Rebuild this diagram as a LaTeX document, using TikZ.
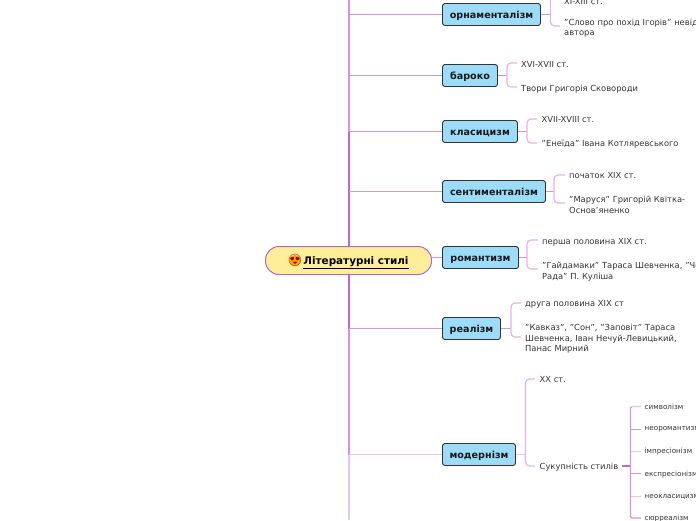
\documentclass[tikz,border=0pt]{standalone}
\usepackage{fontspec}
\setmainfont{DejaVu Sans}
\newfontfamily\emojifont{Noto Emoji}
\definecolor{branchdark}{HTML}{BA68D4}
\definecolor{branchmid}{HTML}{CF94E3}
\definecolor{branchlight}{HTML}{E6C3F0}
\definecolor{nodeblue}{HTML}{9CDCF9}
\definecolor{rootfill}{HTML}{FFEE99}
\definecolor{rootline}{HTML}{B266C8}
\tikzset{
 stylebox/.style={draw=black!80,line width=0.9pt,fill=nodeblue,rounded corners=2.5pt,minimum height=22pt,inner xsep=0pt,inner ysep=0pt,text height=8pt,text depth=0pt,font=\fontsize{9.6}{11}\selectfont\bfseries,text=black!90},
 rootbox/.style={draw=rootline,line width=1pt,fill=rootfill,rounded corners=13.5pt,minimum width=166pt,minimum height=28pt,inner sep=0pt},
 leaf/.style={anchor=north west,inner sep=0pt,align=left,yshift=-2pt,text=black!80,font=\fontsize{8.35}{10.6}\selectfont},
 tiny/.style={anchor=west,inner sep=0pt,text=black!80,font=\fontsize{7.2}{8}\selectfont},
 mainline/.style={draw=branchmid,line width=1pt},
 softline/.style={draw=branchlight,line width=1.3pt},
 greyline/.style={draw=branchlight!60!gray!80!branchmid,line width=1pt},
 brace/.style={draw=branchlight!70!branchmid,line width=1.2pt,rounded corners=4pt},
 stub/.style={draw=branchmid,line width=1.3pt},
}
\begin{document}
\begin{tikzpicture}[x=1pt,y=-1pt]
\useasboundingbox (0,0) rectangle (696,520);
\clip (0,0) rectangle (696,520);

% nodes
\node[rootbox] (root) at (348.5,260.5) {};
\node[anchor=center,inner sep=0pt,text height=7pt,text depth=3pt,font=\fontsize{10.4}{11}\selectfont\bfseries,text=black] (rootlabel) at (356,262.5) {\underline{Літературні стилі}};
\fill[orange!70!yellow] (295,260.5) circle (5.6pt);
\node[inner sep=0pt,text=red!60!black,font=\emojifont\fontsize{12}{12}\selectfont] (rootemoji) at (295,260.5) {😍};

\node[stylebox,minimum width=98pt] (orn) at (491.5,14.5) {орнаменталізм};
\node[stylebox,minimum width=55pt] (bar) at (470,75.5) {бароко};
\node[stylebox,minimum width=75pt] (kla) at (480,131.5) {класицизм};
\node[stylebox,minimum width=103pt] (sen) at (494,191.5) {сентименталізм};
\node[stylebox,minimum width=76pt] (rom) at (480.5,257.5) {романтизм};
\node[stylebox,minimum width=58pt] (rea) at (471.5,328.5) {реалізм};
\node[stylebox,minimum width=73pt] (mod) at (479,454.5) {модернізм};

% trunk
\coordinate (trunktop) at (349,0);
\coordinate (trunkbot) at (349,520);
\coordinate (j1) at (349,14.5);
\coordinate (j2) at (349,75.5);
\coordinate (j3) at (349,131.5);
\coordinate (j4) at (349,191.5);
\coordinate (j5) at (349,328.5);
\coordinate (j6) at (349,454.5);
\draw[draw=branchmid,line width=2pt] (trunktop) -- (j3);
\draw[draw=branchdark,line width=2pt] (j3) -- (root.north -| j1);
\draw[draw=branchdark,line width=2pt] (root.south -| j1) -- (j5);
\draw[draw=branchmid,line width=2pt] (j5) -- (j6);
\draw[softline,line width=2pt] (j6) -- (trunkbot);
\draw[mainline] (j1) -- (orn.west);
\draw[greyline] (j2) -- (bar.west);
\draw[mainline] (j3) -- (kla.west);
\draw[greyline] (j4) -- (sen.west);
\draw[mainline] (j5) -- (rea.west);
\draw[softline] (j6) -- (mod.west);
\draw[mainline] (root.east |- rom.west) -- (rom.west);

% leaves
\node[leaf,anchor=base west] (orn1) at (564,2) {XI-XIII ст.};
\node[leaf,text width=190pt] (orn2) at (564,16.5) {"Слово про похід Ігорів" невідомого\\автора};
\node[leaf] (bar1) at (521,59) {XVI-XVII ст.};
\node[leaf] (bar2) at (521,83) {Твори Григорія Сковороди};
\node[leaf] (kla1) at (541.5,114) {XVII-XVIII ст.};
\node[leaf] (kla2) at (541.5,138) {"Енеїда" Івана Котляревського};
\node[leaf] (sen1) at (569,170) {початок XIX ст.};
\node[leaf,text width=125pt] (sen2) at (569,194) {"Маруся" Григорій Квітка-\\Основ'яненко};
\node[leaf] (rom1) at (542,236) {перша половина XIX ст.};
\node[leaf,text width=200pt] (rom2) at (542,260) {"Гайдамаки" Тараса Шевченка, "Чорна\\Рада" П. Куліша};
\node[leaf] (rea1) at (525,298) {друга половина XIX ст};
\node[leaf,text width=165pt] (rea2) at (525,322) {"Кавказ", "Сон", "Заповіт" Тараса\\Шевченка, Іван Нечуй-Левицький,\\Панас Мирний};
\node[leaf] (mod1) at (539.5,374) {XX ст.};
\node[leaf] (mod2) at (539.5,461) {Сукупність стилів};

\node[tiny] (t1) at (644.5,406.5) {символізм};
\node[tiny] (t2) at (644.5,429.5) {неоромантизм};
\node[tiny] (t3) at (644.5,451.5) {імпресіонізм};
\node[tiny] (t4) at (644.5,474.5) {експресіонізм};
\node[tiny] (t5) at (644.5,496.5) {неокласицизм};
\node[tiny] (t6) at (644.5,519) {сюрреалізм};

% brace connectors
\draw[stub] (orn.east) -- (550.5,14.5);
\draw[brace] (558,-8) -| (550.5,14.5) |- (560,26);
\draw[stub] (bar.east) -- (507,75.5);
\draw[brace] (517,63) -| (507,75.5) |- (517,87);
\draw[stub] (kla.east) -- (527,131.5);
\draw[brace] (537,119) -| (527,131.5) |- (537,143);
\draw[stub] (sen.east) -- (554,191.5);
\draw[brace] (565,175) -| (554,191.5) |- (565,203);
\draw[stub] (rom.east) -- (527,257.5);
\draw[brace] (538,240) -| (527,257.5) |- (538,269);
\draw[stub] (rea.east) -- (511,328.5);
\draw[brace] (521,303) -| (511,328.5) |- (521,337);
\draw[stub,draw=branchlight] (mod.east) -- (525.5,454.5);
\draw[brace] (535,379) -| (525.5,454.5) |- (535,466);

% small tree
\coordinate (sj) at (630.5,466);
\draw[draw=branchdark,line width=1.8pt] (622,466) -- (sj);
\draw[draw=branchmid,line width=1.3pt,rounded corners=1.5pt] (641,406.5) -| (sj);
\draw[draw=branchlight,line width=1.6pt] (630.5,406.5) -- (641,406.5);
\draw[draw=branchmid,line width=1pt] (630.5,429.5) -- (641,429.5);
\draw[draw=branchlight,line width=1.6pt] (630.5,451.5) -- (641,451.5);
\draw[draw=branchmid,line width=1pt] (630.5,473.5) -- (641,473.5);
\draw[draw=branchlight,line width=1.6pt] (630.5,496.5) -- (641,496.5);
\draw[draw=branchmid,line width=1.2pt,rounded corners=1.5pt] (sj) |- (641,518);
\end{tikzpicture}
\end{document}
